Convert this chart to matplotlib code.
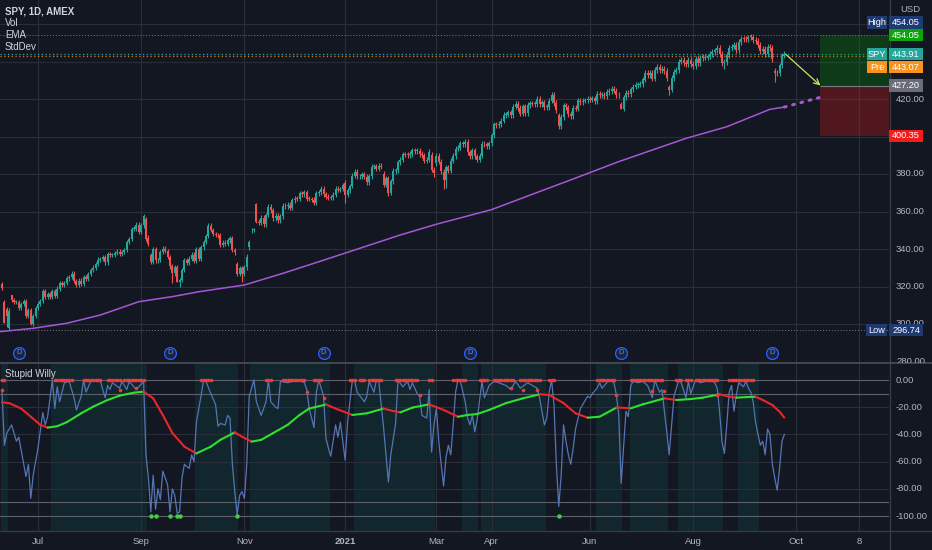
import matplotlib.pyplot as plt
import matplotlib.transforms as mtransforms
from matplotlib.patches import Rectangle
from matplotlib.lines import Line2D
from matplotlib.collections import LineCollection
import numpy as np
import pandas as pd

plt.rcParams['font.family'] = ['Liberation Sans', 'DejaVu Sans']

BG = '#131722'
GRID = '#2a2e39'
TXT = '#b2b5be'
UP = '#26a69a'
DOWN = '#ef5350'
W, H = 932, 550
PLOT_R = 889

holidays = ['2020-07-03', '2020-09-07', '2020-11-26', '2020-12-25', '2021-01-01',
            '2021-01-18', '2021-02-15', '2021-04-02', '2021-05-31', '2021-07-05',
            '2021-09-06', '2021-11-25']

# SPY daily closes, 10 Jun 2020 .. 24 Sep 2021
close_jun20 = [319.0, 300.6, 304.2, 307.1, 313.0, 311.7, 311.8, 308.6, 310.6, 312.1, 304.1, 307.4, 300.1, 304.5, 308.4]
close_jul20 = [310.5, 312.2, 317.6, 314.4, 316.2, 314.4, 317.6, 314.8, 318.9, 321.9, 320.8, 321.7, 324.3, 325.0, 326.9,
               323.0, 320.9, 323.2, 321.2, 325.1, 324.0, 326.5]
close_aug20 = [328.8, 330.1, 332.1, 334.3, 334.6, 335.6, 332.8, 337.4, 336.8, 336.8, 337.9, 338.6, 337.2, 338.3, 339.5,
               343.8, 345.3, 350.6, 350.9, 353.0, 349.3]
close_sep20 = [352.6, 357.7, 345.4, 342.6, 333.2, 339.8, 333.9, 334.1, 338.5, 340.2, 338.8, 335.8, 330.7, 327.0, 330.3,
               322.6, 323.5, 328.7, 334.2, 332.4, 334.9]
close_oct20 = [337.0, 333.8, 339.8, 334.9, 340.8, 343.8, 346.9, 352.4, 350.1, 347.9, 347.5, 347.3, 342.0, 343.4, 342.7,
               344.6, 345.8, 339.4, 338.2, 326.7, 330.0, 326.5]
close_nov20 = [330.2, 336.0, 343.5, 350.2, 350.2, 354.6, 354.0, 356.7, 353.2, 358.1, 362.6, 360.6, 356.3, 357.8, 355.3,
               357.5, 363.2, 362.7, 363.7, 362.1]
close_dec20 = [366.0, 366.8, 366.7, 369.9, 369.1, 370.2, 366.9, 366.7, 366.3, 364.7, 369.6, 370.2, 372.2, 369.2, 367.9,
               367.2, 367.6, 369.0, 372.2, 371.5, 372.0, 373.9]
close_jan21 = [368.8, 371.3, 373.6, 379.1, 381.3, 378.7, 378.8, 379.8, 378.5, 375.7, 378.7, 383.9, 384.2, 382.9, 384.4,
               383.8, 374.4, 377.6, 370.1]
close_feb21 = [376.2, 381.6, 381.9, 386.2, 387.7, 390.5, 390.3, 390.1, 390.7, 392.6, 392.3, 392.4, 390.7, 390.0, 387.0,
               387.5, 391.8, 382.3, 380.4]
close_mar21 = [389.6, 386.5, 381.4, 376.7, 383.6, 381.7, 387.2, 389.6, 393.5, 394.1, 396.4, 395.9, 397.3, 391.5, 389.5,
               392.6, 389.5, 387.5, 389.7, 396.0, 395.8, 394.7, 396.3]
close_apr21 = [400.6, 406.4, 406.1, 406.6, 408.5, 411.5, 411.6, 412.9, 411.5, 415.9, 417.3, 415.2, 412.2, 416.1, 412.3,
               416.7, 417.6, 417.5, 417.4, 420.1, 417.3]
close_may21 = [418.2, 415.6, 415.8, 419.1, 422.1, 417.9, 414.2, 405.4, 410.3, 416.6, 415.5, 411.9, 410.9, 415.3, 414.9,
               419.2, 418.2, 419.1, 419.3, 420.0]
close_jun21 = [419.7, 420.3, 418.8, 422.6, 422.2, 422.3, 421.7, 423.6, 424.3, 425.3, 424.5, 422.1, 422.0, 414.9, 420.9,
               423.1, 422.6, 425.1, 426.6, 427.5, 427.7, 428.1]
close_jul21 = [430.4, 433.7, 432.9, 433.7, 430.9, 435.5, 437.1, 435.6, 436.2, 434.8, 431.3, 425.0, 431.1, 434.6, 435.5,
               440.0, 441.0, 439.0, 438.8, 440.7, 438.5]
close_aug21 = [437.6, 441.2, 439.0, 441.8, 442.5, 442.1, 442.7, 443.8, 445.1, 445.9, 447.0, 444.0, 439.2, 439.9, 443.4,
               447.3, 448.0, 448.9, 446.3, 450.3, 452.2, 452.0]
close_sep21 = [451.8, 453.2, 453.1, 451.5, 450.9, 449.0, 445.4, 446.6, 444.2, 447.9, 447.2, 441.4, 434.0, 433.6, 437.9,
               443.2, 443.9]

closes = (close_jun20 + close_jul20 + close_aug20 + close_sep20 + close_oct20 + close_nov20 + close_dec20
          + close_jan21 + close_feb21 + close_mar21 + close_apr21 + close_may21 + close_jun21 + close_jul21
          + close_aug21 + close_sep21)

# opens that gapped away from the previous close
gap_opens = {'2020-06-10': 321.4, '2020-06-11': 311.5, '2020-06-12': 308.2, '2020-06-15': 298.0,
             '2020-06-16': 315.5, '2020-09-03': 356.0, '2020-09-04': 346.1, '2020-09-08': 336.7,
             '2020-10-28': 332.1, '2020-11-04': 340.9, '2020-11-05': 349.9, '2020-11-09': 364.0,
             '2021-01-04': 375.3, '2021-01-27': 380.2, '2021-02-25': 390.4, '2021-03-01': 385.6,
             '2021-03-04': 381.2, '2021-05-12': 411.2, '2021-06-18': 417.1, '2021-07-19': 426.2,
             '2021-09-20': 434.9}
low_marks = {'2020-06-11': 300.4, '2020-06-12': 298.6, '2020-06-15': 296.74, '2020-06-26': 299.5,
             '2020-09-08': 332.1, '2020-09-21': 322.1, '2020-09-23': 322.5, '2020-09-24': 319.8,
             '2020-10-30': 322.6, '2020-11-09': 354.1, '2021-01-04': 364.8, '2021-01-29': 368.3,
             '2021-02-26': 378.2, '2021-03-04': 371.9, '2021-03-05': 372.6, '2021-05-12': 404.0,
             '2021-06-18': 414.7, '2021-07-19': 421.97, '2021-08-19': 436.1, '2021-09-20': 428.9}
high_marks = {'2020-06-15': 308.3, '2020-06-16': 315.6, '2020-09-02': 358.75, '2020-11-09': 364.4,
              '2021-09-02': 454.05}

# EMA line (bar index, value) and its dotted projection
ema_bar = [-1, 13, 27, 41, 57, 71, 82, 101, 117, 132, 137, 166, 181, 204, 221, 235, 257, 285, 302, 320, 326]
ema_val = [295.9, 297.7, 300.4, 304.8, 311.9, 314.6, 317.2, 320.8, 327.0, 333.2, 335.3, 347.5, 353.2, 361.0,
           369.2, 375.9, 386.6, 399.0, 405.2, 414.5, 415.7]
ema_proj_bar = [326, 341]
ema_proj_val = [415.7, 420.9]

dividend_dates = ['2020-06-19', '2020-09-18', '2020-12-18', '2021-03-19', '2021-06-18', '2021-09-17']

# long position tool
pos_date = '2021-10-15'
pos_entry, pos_target, pos_stop = 427.20, 454.05, 400.35
hi_price, lo_price = 454.05, 296.74
last_price, pre_price = 443.91, 443.07

# Stupid Willy (Williams %R)
wr_bar = [0, 1, 2, 4, 6, 7, 10, 11, 12, 13, 15, 17, 18, 19, 21, 22, 23, 24, 26, 28, 30, 31, 33, 34, 35, 37, 41,
          43, 44, 45, 46, 49, 50, 52, 53, 56, 58, 59, 60, 61, 62, 63, 64, 65, 66, 67, 69, 70, 71, 72, 73, 74, 75,
          76, 78, 79, 80, 81, 83,
          84, 85, 87, 89, 90, 91, 93, 94, 95, 96, 97, 98, 99, 100, 101, 102, 103, 105, 106, 107, 108, 110, 111,
          112, 114, 115, 116, 119, 121, 124, 126, 127, 128, 130, 131, 132, 134, 135, 136, 137, 139, 140, 141, 143,
          144, 146, 147, 148, 151, 152, 153, 155, 156, 157, 159, 160, 161, 162, 164, 165,
          167, 169, 170, 171, 173, 174, 175, 177, 178, 179, 180, 181, 182, 183, 184, 185, 186, 187, 188, 189, 190,
          191, 193, 194, 195, 196, 197, 198, 200, 201, 203, 205, 207, 210, 212, 214, 216, 219, 221, 223, 224, 226,
          227, 228, 229, 230, 231, 232, 233, 234, 235, 236, 237, 238, 239, 241, 242, 244, 245, 246, 248, 249,
          250, 252, 253, 255, 256, 257, 258, 259, 260, 261, 262, 263, 265, 267, 269, 271, 272, 274, 275, 276, 277,
          278, 279, 280, 282, 283, 285, 286, 287, 289, 291, 293, 295, 297, 298, 299, 300, 301, 302, 303, 304, 305,
          306, 307, 309, 310, 311, 312, 313, 314, 315, 316, 317, 318, 319, 320, 321, 322, 323, 324, 325, 326]
wr_val = [-9, -48, -39, -33, -45, -42, -71, -62, -87, -70, -50, -24, -33, -27, 0, -21, -5, -16, -2, -1, -13, -22, -12,
          0, -9, -1, -1, -13, -4, -7, -2, -6, -1, -7, -1, -7, -3, -1, -55, -72, -97, -70, -95, -80, -88, -67, -77,
          -97, -80, -85, -98, -97, -72, -62, -65, -55, -60, -31, -11,
          0, -1, -10, -18, -34, -32, -33, -26, -28, -62, -82, -99, -85, -82, -87, -62, -12, 0, -16, -21, -26, -16,
          0, -16, -20, -21, -1, -2, -1, 0, -2, -7, -21, -35, -9, 0, -12, -43, -50, -56, -33, -42, -31, -59, -31, 0,
          -1, -9, -16, -12, -1, -9, 0, -1, -35, -55, -75, -55, -32, 0,
          -5, -1, -7, -2, -10, -12, -26, -28, -7, -53, -33, -21, -45, -62, -78, -57, -48, -55, -33, -9, 0, -1, -16,
          -28, -33, -26, -38, -29, -1, -13, -4, -1, -2, -4, -7, -1, -6, -2, -4, -6, -13, -33, -28, -9, 0, -18, -62,
          -93, -70, -33, -45, -55, -62, -50, -36, -21, -18, -12, -13, -10, -6, -2,
          -6, -2, 0, -2, -11, -26, -76, -50, -23, -27, -4, -1, -2, -1, -4, -13, 0, -9, -7, -23, -38, -55, -33, -12,
          0, -2, -13, -1, -10, 0, -2, -1, 0, -2, -6, -23, -45, -54, -33, -9, -4, -23, -11, -2, -5, -1, -6, -9, -16,
          -31, -40, -48, -45, -55, -36, -40, -62, -72, -81, -65, -45, -40]

# smoothed signal knots (green while rising, red while falling)
sig_bar = [0, 3, 8, 12, 16, 19, 23, 27, 33, 38, 44, 49, 55, 59, 63, 67, 71, 76, 81, 87, 91, 97, 100, 104, 108, 113,
           119, 124, 128, 135, 139, 146, 152, 159, 163, 166, 171, 178, 184, 190, 194, 198, 203, 210, 217, 224, 228,
           234, 239, 244, 249, 256, 260, 262, 267, 276, 281, 287, 292, 299, 303, 306, 310, 314, 317, 321, 324, 326]
sig_val = [-16.4, -17, -21, -27, -33, -35, -34, -31, -24.5, -19.6, -14.7, -11.5, -9.3, -8.6, -13.5, -25.7, -39, -49,
           -54, -49, -44, -38.5, -41.7, -45.3, -44, -39, -33, -25.7, -21, -18, -21, -25.7, -24.5, -21, -22.8, -23.8,
           -20.3, -17.9, -22, -27, -25.7, -25, -22, -17, -13.5, -10.5, -11, -17, -24.5, -27.7, -27, -20.3, -20.5,
           -20.8, -17.9, -13.5, -14.7, -14, -13, -10.5, -12.3, -13, -12.6, -12.3, -14.7, -18.4, -23.3, -27.7]

# overbought runs (red dots on 0), extra red dots, oversold dots on -100
red_runs = [(0, 1), (22, 29), (34, 41), (44, 49), (51, 59), (83, 87), (110, 112), (117, 126), (130, 133),
            (145, 147), (149, 151), (153, 158), (164, 173), (178, 179), (188, 193), (199, 202), (205, 213),
            (216, 224), (228, 230), (248, 255), (262, 275), (281, 283), (285, 287), (289, 298), (303, 313)]
red_extra_bar = [0, 49, 56, 127, 134, 174, 212, 217, 223, 256, 271, 276, 298]
red_extra_val = [-7, -7, -6, -9, -13, -11, -6, -7, -7, -11, -8, -8, -11]
green_bars = [62, 64, 70, 73, 74, 98, 232]
shade_runs = [(0, 2), (21, 60), (81, 98), (104, 136), (147, 180), (192, 198), (200, 226), (248, 258),
              (262, 277), (282, 300), (307, 315)]

price_grid = [280, 300, 320, 340, 360, 380, 400, 420, 440, 460]
price_labels = [280, 300, 320, 340, 360, 380, 420]   # the rest sit under the price tags
wr_ticks = [0, -20, -40, -60, -80, -100]
wr_levels = [0, -10, -90, -100]
x_ticks = [('2020-07-01', 'Jul'), ('2020-09-01', 'Sep'), ('2020-11-02', 'Nov'), ('2021-01-04', '2021'),
           ('2021-03-01', 'Mar'), ('2021-04-01', 'Apr'), ('2021-06-01', 'Jun'), ('2021-08-02', 'Aug'),
           ('2021-10-01', 'Oct'), ('2021-11-08', '8')]

days = pd.bdate_range('2020-06-10', '2021-12-31', freq='C', holidays=holidays)


def bar_of(d):
    return days.get_loc(pd.Timestamp(d))


# OHLC
c = np.array(closes)
n = len(c)
o = np.r_[c[0], c[:-1]]
for d, v in gap_opens.items():
    o[bar_of(d)] = v
hi = np.maximum(o, c) * 1.0035
lo = np.minimum(o, c) * 0.9965
for d, v in high_marks.items():
    hi[bar_of(d)] = v
for d, v in low_marks.items():
    lo[bar_of(d)] = v
bars = np.arange(n)
col = np.where(c >= o, UP, DOWN)

fig = plt.figure(figsize=(W / 100, H / 100), dpi=100, facecolor=BG)
ax = fig.add_axes([0, (H - 363) / H, PLOT_R / W, 363 / H], facecolor=BG)
ax2 = fig.add_axes([0, (H - 531) / H, PLOT_R / W, 168 / H], facecolor=BG)
tick_bars = [bar_of(d) for d, _ in x_ticks]
for a in (ax, ax2):
    for s in a.spines.values():
        s.set_visible(False)
    a.tick_params(length=0, labelleft=False, labelbottom=False)
    a.set_xlim(-0.83, 369.6)
    a.set_xticks(tick_bars)
    a.set_axisbelow(True)
ax.set_ylim(279.2, 472.8)
ax2.set_ylim(-111, 12.5)
ax.set_yticks(price_grid)
ax2.set_yticks([-20, -40, -60, -80])
ax.grid(True, color=GRID, lw=0.8)
ax2.grid(True, color=GRID, lw=0.8)
xmax = ax.get_xlim()[1]

# ---- price pane
ax.vlines(bars, lo, hi, colors=col, lw=0.8, zorder=3)
ax.bar(bars, np.maximum(np.abs(c - o), 0.4), bottom=np.minimum(o, c), width=0.78, color=col, lw=0, zorder=3)

ax.plot(ema_bar, ema_val, color='#a657d6', lw=1.1, zorder=2)
ax.plot(ema_proj_bar, ema_proj_val, color='#a657d6', lw=2.2, ls=(0, (0.6, 2.2)), dash_capstyle='round', zorder=2)

ax.axhline(hi_price, color='#787b86', lw=0.7, ls=(0, (1, 2)), zorder=1)
ax.axhline(lo_price, color='#787b86', lw=0.7, ls=(0, (1, 2)), zorder=1)
ax.axhline(last_price, color=UP, lw=0.9, ls=(0, (1, 2)), zorder=1)
ax.axhline(pre_price, color='#f7931e', lw=0.9, ls=(0, (1, 2)), zorder=1, alpha=0.8)

pos_bar = bar_of(pos_date)
ax.fill_between([pos_bar, xmax], pos_entry, pos_target, color='#00a000', alpha=0.26, lw=0, zorder=2)
ax.fill_between([pos_bar, xmax], pos_stop, pos_entry, color='#ff1a1a', alpha=0.26, lw=0, zorder=2)
ax.hlines(pos_entry, pos_bar, xmax, color='#787b86', lw=0.8, zorder=3)
ax.annotate('', xy=(pos_bar, pos_entry), xytext=(n - 1 + 0.5, last_price),
            arrowprops=dict(arrowstyle='->', color='#c8e65c', lw=0.9, shrinkA=0, shrinkB=0), zorder=4)

div_tr = mtransforms.blended_transform_factory(ax.transData, ax.transAxes)
div_bars = [bar_of(d) for d in dividend_dates]
ax.plot(div_bars, [0.028] * len(div_bars), transform=div_tr, ls='none', marker='o', ms=8.5,
        mfc='#1a2340', mec='#2962ff', mew=0.9, zorder=5, clip_on=False)
for b in div_bars:
    ax.text(b, 0.028, 'D', transform=div_tr, color='#5b8cff', fontsize=5.5, ha='center', va='center', zorder=6)

# ---- Stupid Willy pane
for s, e in shade_runs:
    ax2.axvspan(s - 0.5, e + 0.5, color='#089981', alpha=0.12, lw=0, zorder=0)
for lv in wr_levels:
    ax2.axhline(lv, color='#5d606b', lw=0.8, zorder=1)
ax2.plot(wr_bar, wr_val, color='#5575b3', lw=0.9, zorder=2)
pts = np.column_stack([sig_bar, sig_val])
segs = np.stack([pts[:-1], pts[1:]], axis=1)
seg_cols = ['#2fe02f' if b > a else '#e8262b' for a, b in zip(sig_val[:-1], sig_val[1:])]
ax2.add_collection(LineCollection(segs, colors=seg_cols, linewidths=1.5, zorder=3, capstyle='round'))
for s, e in red_runs:
    xs = np.arange(s, e + 1)
    ax2.plot(xs, np.zeros(len(xs)), ls='none', marker='o', ms=2.6, color='#ef3b3b', mew=0, zorder=4)
ax2.plot(red_extra_bar, red_extra_val, ls='none', marker='o', ms=2.6, color='#ef3b3b', mew=0, zorder=4)
ax2.plot(green_bars, [-100] * len(green_bars), ls='none', marker='o', ms=3.2, color='#3fd13f', mew=0, zorder=4)

# ---- axis text
def ytr(a):
    return mtransforms.blended_transform_factory(fig.transFigure, a.transData)


for p in price_labels:
    t = fig.text(896 / W, p, '%.2f' % p, transform=ytr(ax), color=TXT, fontsize=6.8, va='center', ha='left')
    top_cut = 324 if p == 300 else 363   # 300.00 peeks above the Low tag, 280.00 is cut by the pane edge
    t.set_clip_box(mtransforms.Bbox([[PLOT_R, H - top_cut], [W, H]]))
    t.set_clip_on(True)
for p in wr_ticks:
    fig.text(896 / W, p, '%.2f' % p, transform=ytr(ax2), color=TXT, fontsize=6.8, va='center', ha='left')

xl_tr = mtransforms.blended_transform_factory(ax2.transData, fig.transFigure)
for (d, lab), b in zip(x_ticks, tick_bars):
    ax2.text(b, 1 - 541 / H, lab, transform=xl_tr, color=TXT, fontsize=6.8, ha='center', va='center',
             fontweight='bold' if lab == '2021' else 'normal', clip_on=False)


def tag(a, value, text, color, x0, x1, dy=0, tcolor='white'):
    ppu = a.bbox.height / (a.get_ylim()[1] - a.get_ylim()[0])
    tr = ytr(a) + mtransforms.ScaledTranslation(0, dy / 100, fig.dpi_scale_trans)
    h = 12.5 / ppu
    fig.add_artist(Rectangle((x0 / W, value - h / 2), (x1 - x0) / W, h, transform=tr, color=color, lw=0, zorder=5))
    fig.text((x0 + x1) / 2 / W, value, text, transform=tr, color=tcolor, fontsize=6.6, ha='center', va='center',
             zorder=6)


navy = '#1f3a73'
tag(ax, hi_price, 'High', navy, 867, 887, dy=12.5)
tag(ax, hi_price, '%.2f' % hi_price, navy, 889, 923, dy=12.5)
tag(ax, pos_target, '%.2f' % pos_target, '#0ba50b', 889, 923)
tag(ax, last_price, 'SPY', UP, 867, 887)
tag(ax, last_price, '%.2f' % last_price, UP, 889, 923)
tag(ax, pre_price, 'Pre', '#f7931e', 867, 887, dy=-11.5)
tag(ax, pre_price, '%.2f' % pre_price, '#f7931e', 889, 923, dy=-11.5)
tag(ax, pos_entry, '%.2f' % pos_entry, '#6a6d78', 889, 923)
tag(ax, pos_stop, '%.2f' % pos_stop, '#f51c1c', 889, 923)
tag(ax, lo_price, 'Low', navy, 866, 887)
tag(ax, lo_price, '%.2f' % lo_price, navy, 889, 923)

fig.text(910 / W, 1 - 10 / H, 'USD', color=TXT, fontsize=6.8, ha='center', va='center')
leg = [('SPY, 1D, AMEX', 'bold', 11), ('Vol', 'normal', 23), ('EMA', 'normal', 35), ('StdDev', 'normal', 47)]
for s, wgt, y in leg:
    fig.text(5 / W, 1 - y / H, s, color='#d1d4dc', fontsize=7, fontweight=wgt, ha='left', va='center')
fig.text(5 / W, 1 - 374 / H, 'Stupid Willy', color='#d1d4dc', fontsize=7, ha='left', va='center')

# pane frame lines
fig.add_artist(Line2D([(PLOT_R + 0.5) / W] * 2, [0, 1], transform=fig.transFigure, color='#363a45', lw=1))
fig.add_artist(Line2D([0, 1], [1 - 363 / H] * 2, transform=fig.transFigure, color='#4a4d57', lw=1.2))
fig.add_artist(Line2D([0, 1], [1 - 531 / H] * 2, transform=fig.transFigure, color='#363a45', lw=1))

fig.savefig('out.png', dpi=100, facecolor=BG)
